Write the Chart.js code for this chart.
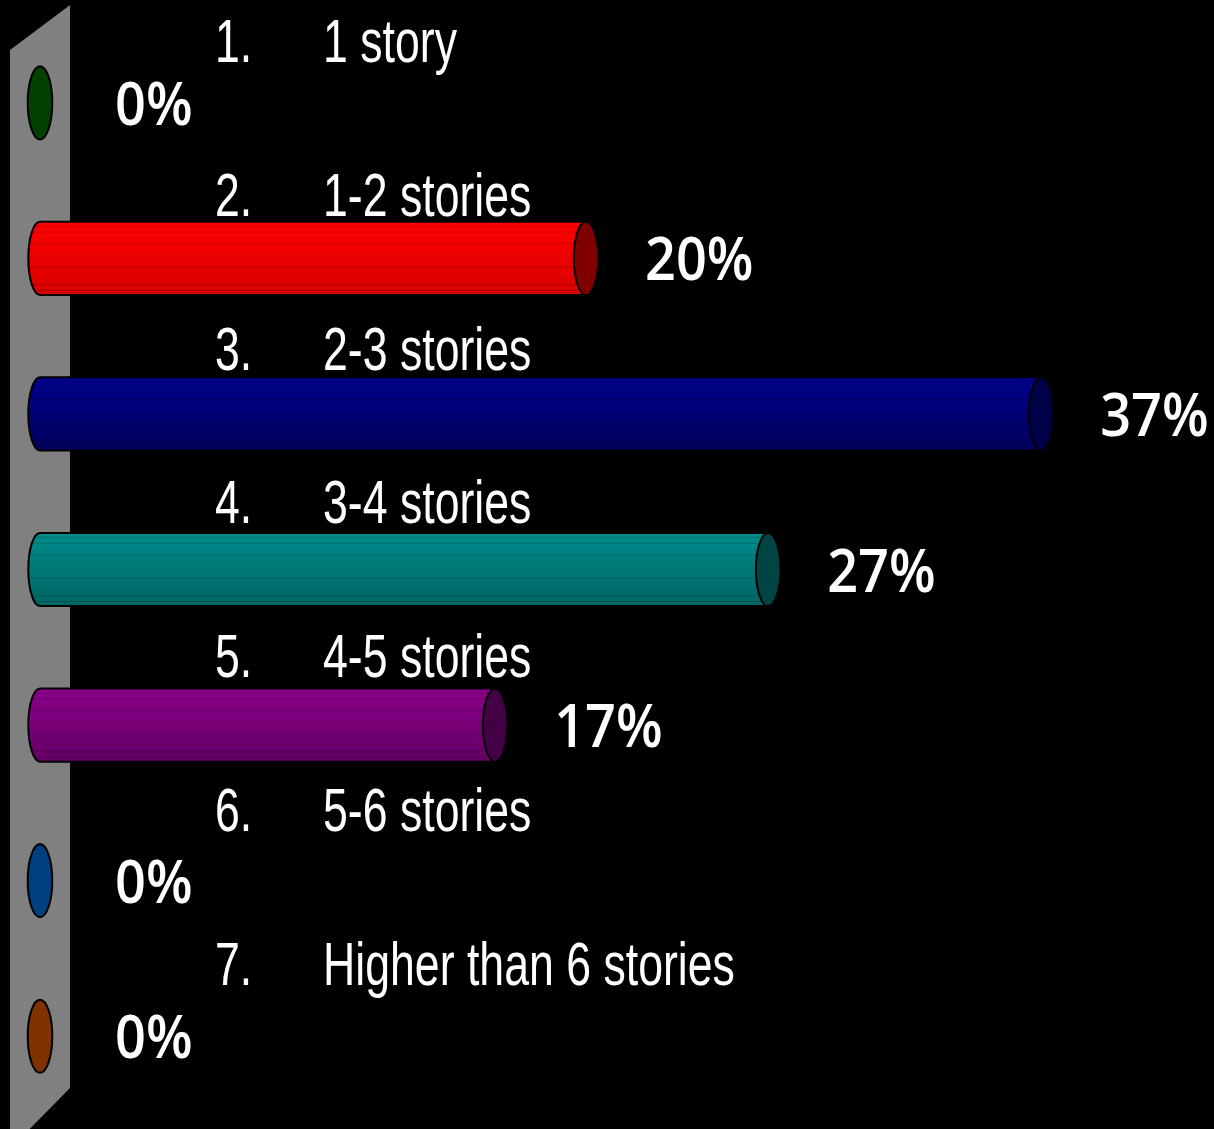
<!DOCTYPE html>
<html>
<head>
<meta charset="utf-8">
<script src="https://cdn.jsdelivr.net/npm/chart.js@4.4.1/dist/chart.umd.min.js"></script>
<style>
  html, body { margin: 0; padding: 0; background: #000; }
  #wrap { width: 1214px; height: 1129px; position: relative; }
</style>
</head>
<body>
<div id="wrap"><canvas id="myChart"></canvas></div>
<script>
// answers and their share of votes (%), 30 votes in total
const itemNumbers = ["1.", "2.", "3.", "4.", "5.", "6.", "7."];
const answers = ["1 story", "1-2 stories", "2-3 stories", "3-4 stories", "4-5 stories", "5-6 stories", "Higher than 6 stories"];
const percents = [0, 20, 36.67, 26.67, 16.67, 0, 0];

// bar colours (top of cylinder, bottom of cylinder, end cap)
const topColors = ["#009000", "#ff0000", "#00008e", "#008c8c", "#8c008c", "#0070d8", "#ff7010"];
const bottomColors = ["#006000", "#d80000", "#00005c", "#006464", "#640064", "#004c98", "#c04c00"];
const capColors = ["#004000", "#800000", "#000048", "#004444", "#440044", "#003f7f", "#803300"];

const cylinders = {
  id: "cylinders",
  beforeDatasetsDraw(chart) {
    // grey back wall
    const ctx = chart.ctx;
    const x0 = chart.scales.x.getPixelForValue(0);
    const area = chart.chartArea;
    ctx.save();
    ctx.fillStyle = "#808080";
    ctx.beginPath();
    ctx.moveTo(x0 - 30, area.top + 25);
    ctx.lineTo(x0 + 30, area.top - 20);
    ctx.lineTo(x0 + 30, area.bottom - 26);
    ctx.lineTo(x0 - 30, chart.height + 20);
    ctx.closePath();
    ctx.fill();
    ctx.restore();
  },
  afterDatasetsDraw(chart) {
    const ctx = chart.ctx;
    const meta = chart.getDatasetMeta(0);
    meta.data.forEach((bar, i) => {
      const x0 = bar.base, x1 = bar.x, yc = bar.y, h = bar.height;
      const ry = h / 2, rx = h * 0.16;
      const top = yc - ry, bot = yc + ry;
      ctx.save();
      ctx.lineWidth = 2;
      ctx.strokeStyle = "#000";
      if (percents[i] > 0) {
        const g = ctx.createLinearGradient(0, top, 0, bot);
        g.addColorStop(0, topColors[i]);
        g.addColorStop(1, bottomColors[i]);
        ctx.beginPath();
        ctx.moveTo(x0, top);
        ctx.lineTo(x1, top);
        ctx.ellipse(x1, yc, rx, ry, 0, -Math.PI / 2, Math.PI / 2, false);
        ctx.lineTo(x0, bot);
        ctx.ellipse(x0, yc, rx, ry, 0, Math.PI / 2, Math.PI * 1.5, false);
        ctx.closePath();
        ctx.fillStyle = g;
        ctx.fill();
        // faint facet lines
        ctx.save();
        ctx.clip();
        ctx.strokeStyle = "rgba(0,0,0,0.18)";
        ctx.lineWidth = 1;
        [0.06, 0.14, 0.3, 0.62, 0.86, 0.94].forEach(f => {
          ctx.beginPath();
          ctx.moveTo(x0 - rx, top + h * f);
          ctx.lineTo(x1, top + h * f);
          ctx.stroke();
        });
        ctx.restore();
        ctx.beginPath();
        ctx.moveTo(x0, top);
        ctx.lineTo(x1, top);
        ctx.moveTo(x0, bot);
        ctx.lineTo(x1, bot);
        ctx.moveTo(x0, top);
        ctx.ellipse(x0, yc, rx, ry, 0, -Math.PI / 2, -Math.PI * 1.5, true);
        ctx.stroke();
      }
      ctx.beginPath();
      ctx.ellipse(x1, yc, rx * 1.05, ry, 0, 0, Math.PI * 2);
      ctx.fillStyle = capColors[i];
      ctx.fill();
      ctx.stroke();

      // percentage label
      ctx.fillStyle = "#fff";
      ctx.font = "600 60px 'Open Sans'";
      ctx.textBaseline = "alphabetic";
      ctx.textAlign = "left";
      const lx = percents[i] > 0 ? x1 + 59 : x0 + 75;
      ctx.save();
      ctx.translate(lx, yc + 22);
      ctx.scale(0.9, 1);
      ctx.fillText(Math.round(percents[i]) + "%", 0, 0);
      ctx.restore();

      // answer label above the bar
      ctx.font = "62px 'Liberation Sans'";
      const ly = yc - 41 - i * 1.7;
      ctx.save();
      ctx.translate(215, ly);
      ctx.scale(0.72, 1);
      ctx.fillText(itemNumbers[i], 0, 0);
      ctx.restore();
      ctx.save();
      ctx.translate(323, ly);
      ctx.scale(0.72, 1);
      ctx.fillText(answers[i], 0, 0);
      ctx.restore();
      ctx.restore();
    });
  }
};

const config = {
  type: "bar",
  data: {
    labels: answers,
    datasets: [{
      data: percents,
      backgroundColor: "rgba(0,0,0,0)",
      borderWidth: 0,
      barPercentage: 0.47,
      categoryPercentage: 1
    }]
  },
  options: {
    indexAxis: "y",
    responsive: true,
    maintainAspectRatio: false,
    animation: false,
    layout: { padding: { left: 40, right: 0, top: 25, bottom: 15 } },
    scales: {
      x: { display: false, min: 0, max: 43 },
      y: { display: false }
    },
    plugins: { legend: { display: false }, tooltip: { enabled: false } }
  },
  plugins: [cylinders]
};

const context = document.getElementById("myChart");
const myChart = new Chart(context, config);
</script>
</body>
</html>
